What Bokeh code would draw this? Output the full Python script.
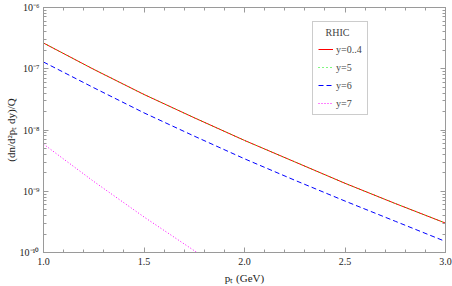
from bokeh.plotting import figure
from bokeh.models import (Legend, LegendItem, LinearAxis, LogAxis, LogTicker,
                          SingleIntervalTicker, CustomJSTickFormatter, Range1d)
from bokeh.embed import file_html
from bokeh.resources import INLINE

# ---- data ----
pt = [1.0, 1.25, 1.5, 1.75, 2.0, 2.25, 2.5, 2.75, 3.0]
log_y04 = [-6.58, -7.01, -7.42, -7.80, -8.17, -8.52, -8.87, -9.20, -9.52]
log_y5 = [-6.58, -7.01, -7.42, -7.80, -8.17, -8.52, -8.87, -9.20, -9.52]
log_y6 = [-6.89, -7.31, -7.72, -8.10, -8.47, -8.82, -9.16, -9.49, -9.82]
pt7 = [1.0, 1.25, 1.5, 1.75, 1.8]
log_y7 = [-8.23, -8.84, -9.42, -9.97, -10.08]
series_labels = ["y=0..4", "y=5", "y=6", "y=7"]
legend_title = "RHIC"
x_label = "p\u209c (GeV)"
y_label = "(dn/d\u00b2p\u209c dy)/Q"

y04 = [10 ** v for v in log_y04]
y5 = [10 ** v for v in log_y5]
y6 = [10 ** v for v in log_y6]
y7 = [10 ** v for v in log_y7]

W, H = 452, 286
FONT = "Liberation Serif"
GRAY = "#9a9a9a"

p = figure(width=W, height=H, output_backend="svg", toolbar_location=None,
           y_axis_type="log", x_range=Range1d(1.0, 3.0), y_range=Range1d(1e-10, 1e-6),
           min_border_left=43, min_border_right=7, min_border_top=7, min_border_bottom=31)
p.grid.visible = False
p.outline_line_color = GRAY
p.background_fill_color = "white"
p.border_fill_color = "white"

sup_js = """
const sup = {"-":"\u207b","0":"\u2070","1":"\u00b9","2":"\u00b2","3":"\u00b3","4":"\u2074",
             "5":"\u2075","6":"\u2076","7":"\u2077","8":"\u2078","9":"\u2079"};
const e = Math.round(Math.log10(tick));
return "10" + String(e).split("").map(c => sup[c]).join("");
"""
empty_js = "return '';"

def style_axis(ax, labels=True):
    ax.axis_line_color = GRAY
    ax.major_tick_line_color = GRAY
    ax.minor_tick_line_color = GRAY
    ax.major_tick_in = 5
    ax.major_tick_out = 0
    ax.minor_tick_in = 3
    ax.minor_tick_out = 0
    ax.major_label_text_font = FONT
    ax.major_label_text_font_size = "10px"
    ax.major_label_text_color = "#222222"
    ax.major_label_standoff = 5
    ax.axis_label_text_font = FONT
    ax.axis_label_text_font_size = "11px"
    ax.axis_label_text_font_style = "normal"
    ax.axis_label_text_color = "#222222"
    ax.axis_label_standoff = 3
    if not labels:
        ax.major_label_standoff = 0

p.xaxis.ticker = SingleIntervalTicker(interval=0.5, num_minor_ticks=5)
style_axis(p.xaxis[0])
p.xaxis[0].formatter = CustomJSTickFormatter(code="return tick.toFixed(1);")
p.xaxis[0].axis_label = x_label
p.xaxis[0].axis_label_standoff = 4

p.yaxis.ticker = LogTicker(num_minor_ticks=10)
style_axis(p.yaxis[0])
p.yaxis[0].formatter = CustomJSTickFormatter(code=sup_js)
p.yaxis[0].axis_label = y_label
p.yaxis[0].axis_label_standoff = 0
p.yaxis[0].major_label_standoff = 4

top = LinearAxis(ticker=SingleIntervalTicker(interval=0.5, num_minor_ticks=5),
                 formatter=CustomJSTickFormatter(code=empty_js))
style_axis(top, labels=False)
p.add_layout(top, "above")
right = LogAxis(ticker=LogTicker(num_minor_ticks=10),
                formatter=CustomJSTickFormatter(code=empty_js))
style_axis(right, labels=False)
p.add_layout(right, "right")

r1 = p.line(pt, y04, line_color="#ff0000", line_width=1)
r2 = p.line(pt, y5, line_color="#00ee00", line_width=1, line_dash="1 3")
r3 = p.line(pt, y6, line_color="#0000ff", line_width=1, line_dash="5 3")
r4 = p.line(pt7, y7, line_color="#ff00ff", line_width=1, line_dash="1 2")

legend = Legend(items=[LegendItem(label=series_labels[0], renderers=[r1]),
                       LegendItem(label=series_labels[1], renderers=[r2]),
                       LegendItem(label=series_labels[2], renderers=[r3]),
                       LegendItem(label=series_labels[3], renderers=[r4])],
                location=(269, 137), title="\u00a0\u00a0\u00a0" + legend_title,
                title_text_font=FONT, title_text_font_size="10px", title_text_font_style="normal",
                title_standoff=5,
                label_text_font=FONT, label_text_font_size="10px",
                glyph_width=15, glyph_height=12, label_height=12, label_standoff=3,
                spacing=6, padding=5, margin=0,
                border_line_color=GRAY, background_fill_alpha=1.0)
p.add_layout(legend, "center")

open("out.html", "w").write(file_html(p, INLINE))
